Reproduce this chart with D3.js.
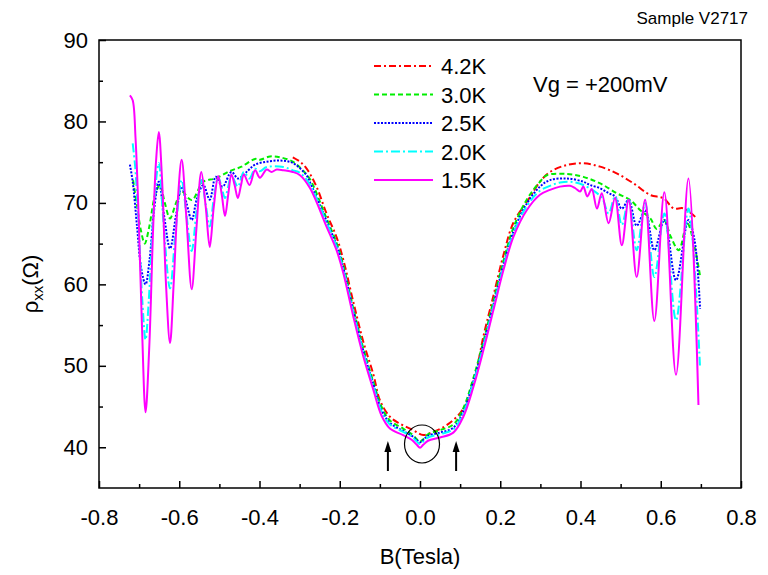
<!DOCTYPE html>
<html>
<head>
<meta charset="utf-8">
<script src="https://cdn.jsdelivr.net/npm/d3@7"></script>
<style>
  body { margin: 0; background: #fff; }
  text { font-family: Arial, "Liberation Sans", sans-serif; fill: #000; }
</style>
</head>
<body>
<script>
(function() {

    var width = 768,
        height = 575;

    // B (Tesla), rho_xx (Ohm)
    var t15 = [[-0.723,83.2],[-0.716,82.6],[-0.709,78],[-0.701,68],[-0.693,55],[-0.684,44.3],[-0.675,52],[-0.665,67],[-0.658,75],[-0.651,78.7],[-0.643,73],[-0.633,60],[-0.623,52.8],[-0.614,60],[-0.604,70],[-0.594,75.3],[-0.582,68],[-0.569,59.4],[-0.557,67],[-0.545,73.8],[-0.534,69.5],[-0.524,64.6],[-0.514,69.5],[-0.503,73.3],[-0.494,71],[-0.486,68.4],[-0.478,71],[-0.470,73.5],[-0.462,72.2],[-0.454,70.6],[-0.446,72.2],[-0.439,73.5],[-0.425,72.2],[-0.411,74.0],[-0.399,73.1],[-0.382,74.1],[-0.370,73.8],[-0.357,74.1],[-0.340,74.0],[-0.317,73.8],[-0.299,73.4],[-0.274,71.8],[-0.233,67.1],[-0.208,64.2],[-0.191,61.35],[-0.166,56.0],[-0.141,51.1],[-0.116,47.0],[-0.096,43.9],[-0.075,42.3],[-0.042,41.5],[-0.020,40.9],[-0.008,40.3],[0.000,39.95],[0.008,40.3],[0.020,40.8],[0.050,41.2],[0.083,41.8],[0.108,43.75],[0.133,47.4],[0.158,51.9],[0.183,56.85],[0.208,61.76],[0.233,65.85],[0.266,69.1],[0.299,71.0],[0.324,71.6],[0.349,72.0],[0.374,72.1],[0.387,71.8],[0.399,71.4],[0.407,72.0],[0.417,70.8],[0.428,71.7],[0.441,69.3],[0.453,71.2],[0.470,67.5],[0.486,70.6],[0.503,64.8],[0.520,70.4],[0.540,60.9],[0.561,70.4],[0.584,55.5],[0.609,71.3],[0.638,48.9],[0.669,73.0],[0.694,45.2]];

    var t20 = [[-0.716,77.3],[-0.710,74.5],[-0.700,66],[-0.692,58],[-0.684,53.2],[-0.676,58],[-0.664,69],[-0.651,74.9],[-0.640,68],[-0.623,59.5],[-0.610,66],[-0.594,72.8],[-0.582,68.5],[-0.569,64.1],[-0.557,69],[-0.545,72.8],[-0.534,69.8],[-0.524,67.1],[-0.514,70.5],[-0.503,73.2],[-0.494,71.8],[-0.486,70.6],[-0.478,72.0],[-0.470,73.4],[-0.454,72.0],[-0.439,73.8],[-0.425,73.0],[-0.411,74.2],[-0.399,73.9],[-0.382,74.4],[-0.340,74.4],[-0.317,74.0],[-0.299,73.7],[-0.274,72.2],[-0.233,67.6],[-0.208,64.6],[-0.191,61.8],[-0.166,56.5],[-0.141,51.6],[-0.116,47.5],[-0.096,44.4],[-0.075,42.8],[-0.042,41.9],[-0.020,41.3],[-0.008,40.7],[0.000,40.4],[0.008,40.7],[0.020,41.2],[0.050,41.6],[0.083,42.2],[0.108,44.2],[0.133,47.9],[0.158,52.4],[0.183,57.3],[0.208,62.2],[0.233,66.3],[0.266,69.6],[0.299,71.5],[0.324,72.1],[0.349,72.5],[0.374,72.6],[0.407,72.2],[0.441,71.2],[0.455,70.5],[0.470,68.7],[0.486,70.8],[0.503,67.3],[0.520,70.4],[0.540,64.2],[0.561,70.0],[0.584,60.9],[0.609,68.7],[0.638,55.6],[0.669,69.3],[0.698,49.7]];

    var t25 = [[-0.723,74.7],[-0.716,72.6],[-0.705,67],[-0.695,62],[-0.684,60.0],[-0.674,63],[-0.663,69],[-0.651,72.6],[-0.638,68.5],[-0.623,64.4],[-0.608,68.5],[-0.594,72.0],[-0.582,70],[-0.569,67.9],[-0.556,70.5],[-0.540,72.2],[-0.524,70.4],[-0.509,73.2],[-0.492,72.0],[-0.470,73.8],[-0.453,73.0],[-0.428,74.0],[-0.411,74.7],[-0.382,75.06],[-0.349,75.2],[-0.317,74.9],[-0.283,73.4],[-0.274,72.5],[-0.233,67.8],[-0.208,64.8],[-0.191,62.0],[-0.166,56.7],[-0.141,51.8],[-0.116,47.7],[-0.096,44.6],[-0.075,43.0],[-0.042,42.0],[-0.020,41.4],[-0.008,40.9],[0.000,40.6],[0.008,40.9],[0.020,41.4],[0.050,41.8],[0.083,42.4],[0.108,44.4],[0.133,48.1],[0.158,52.6],[0.183,57.5],[0.208,62.4],[0.233,66.5],[0.266,69.9],[0.299,72.0],[0.324,72.8],[0.366,73.0],[0.407,72.6],[0.424,72.2],[0.449,71.8],[0.470,71.2],[0.486,70.8],[0.503,69.3],[0.520,70.35],[0.540,67.2],[0.561,69.1],[0.584,64.2],[0.609,67.9],[0.638,60.5],[0.669,67.9],[0.684,65.5],[0.698,57.0]];

    var t30 = [[-0.715,72.8],[-0.705,69.5],[-0.695,66.5],[-0.686,65.0],[-0.675,67],[-0.660,71],[-0.648,72.2],[-0.636,70],[-0.623,68.1],[-0.608,70],[-0.594,71.4],[-0.569,70.35],[-0.540,72.6],[-0.510,73.0],[-0.474,73.9],[-0.445,74.45],[-0.411,75.4],[-0.399,75.3],[-0.374,75.7],[-0.349,75.6],[-0.317,75.06],[-0.292,74.0],[-0.274,72.9],[-0.233,68.1],[-0.208,65.1],[-0.191,62.3],[-0.166,57.0],[-0.141,52.1],[-0.116,48.0],[-0.096,45.0],[-0.075,43.3],[-0.042,42.3],[-0.020,41.6],[-0.008,41.0],[0.000,40.7],[0.008,41.0],[0.020,41.6],[0.050,42.1],[0.083,42.8],[0.108,44.8],[0.133,48.5],[0.158,53.0],[0.183,58.0],[0.208,62.9],[0.233,67.0],[0.266,70.4],[0.299,72.6],[0.316,73.4],[0.366,73.55],[0.407,73.2],[0.449,72.4],[0.490,71.2],[0.524,70.35],[0.549,69.1],[0.574,68.1],[0.590,66.8],[0.608,67.9],[0.625,65.85],[0.645,64.2],[0.666,67.5],[0.686,64.2],[0.698,61.0]];

    var t42 = [[-0.317,75.6],[-0.299,75.06],[-0.283,74.25],[-0.258,72.0],[-0.233,68.7],[-0.208,65.8],[-0.191,63.0],[-0.166,57.8],[-0.141,52.9],[-0.116,48.9],[-0.100,45.8],[-0.075,43.75],[-0.050,42.9],[-0.017,42.1],[0.008,41.5],[0.033,41.9],[0.066,42.7],[0.100,44.2],[0.120,45.8],[0.137,48.5],[0.158,53.6],[0.183,58.6],[0.208,63.6],[0.233,67.6],[0.270,70.4],[0.299,72.6],[0.324,73.8],[0.366,74.65],[0.407,74.86],[0.449,74.45],[0.490,73.63],[0.532,72.4],[0.574,70.97],[0.607,70.56],[0.632,69.33],[0.657,69.33],[0.690,68.1]];

    var labels = ["4.2K", "3.0K", "2.5K", "2.0K", "1.5K"];
    var colors = ["#ff0000", "#00ee00", "#0000ff", "#00ffff", "#ff00ff"];
    var dashes = ["7,3,2,3", "5,3", "2,1.5", "9,3,2,3", null];
    var traces = [t42, t30, t25, t20, t15];

    var xTicks = [-0.8, -0.6, -0.4, -0.2, 0.0, 0.2, 0.4, 0.6, 0.8];
    var yTicks = [40, 50, 60, 70, 80, 90];
    var arrowB = [-0.08, 0.09];

    var svg = d3.select("body")
        .append("svg")
        .attr("width", width)
        .attr("height", height);

    var x = d3.scaleLinear().domain([-0.8, 0.8]).range([99, 741]);
    var y = d3.scaleLinear().domain([35, 90]).range([488, 40]);

    // minor ticks
    svg.append("g")
        .attr("transform", "translate(0,488)")
        .call(d3.axisBottom(x).tickValues(d3.range(-0.7, 0.8, 0.2)).tickSize(-4).tickFormat(""))
        .call(function(g) { g.select(".domain").remove(); });
    svg.append("g")
        .attr("transform", "translate(99,0)")
        .call(d3.axisLeft(y).tickValues(d3.range(45, 90, 10)).tickSize(-4).tickFormat(""))
        .call(function(g) { g.select(".domain").remove(); });

    // major ticks + labels
    var xa = svg.append("g")
        .attr("transform", "translate(0,488)")
        .call(d3.axisBottom(x).tickValues(xTicks).tickSize(-7).tickPadding(21)
            .tickFormat(function(d) { return d.toFixed(1); }));
    xa.select(".domain").remove();
    xa.selectAll("text").attr("font-size", 22).attr("font-family", null);

    var ya = svg.append("g")
        .attr("transform", "translate(99,0)")
        .call(d3.axisLeft(y).tickValues(yTicks).tickSize(-7).tickPadding(11));
    ya.select(".domain").remove();
    ya.selectAll("text").attr("font-size", 22).attr("font-family", null);
    svg.selectAll(".tick line").attr("stroke-width", 1.5);

    svg.append("rect")
        .attr("x", 99).attr("y", 40)
        .attr("width", 642).attr("height", 448)
        .attr("fill", "none")
        .attr("stroke", "#000")
        .attr("stroke-width", 1.5);

    var line = d3.line()
        .curve(d3.curveCatmullRom.alpha(0.5))
        .x(function(d) { return x(d[0]); })
        .y(function(d) { return y(d[1]); });

    svg.append("g").selectAll("path")
        .data(traces)
        .enter().append("path")
        .attr("d", line)
        .attr("fill", "none")
        .attr("stroke", function(d, i) { return colors[i]; })
        .attr("stroke-width", 2)
        .attr("stroke-dasharray", function(d, i) { return dashes[i]; });

    // legend
    var leg = svg.append("g");
    labels.forEach(function(l, i) {
        var ly = 66 + i * 28.5;
        leg.append("line")
            .attr("x1", 374).attr("x2", 433)
            .attr("y1", ly).attr("y2", ly)
            .attr("stroke", colors[i])
            .attr("stroke-width", 2)
            .attr("stroke-dasharray", dashes[i]);
        leg.append("text")
            .attr("x", 441).attr("y", ly + 8)
            .attr("font-size", 22)
            .text(l);
    });

    svg.append("text")
        .attr("x", 533).attr("y", 92)
        .attr("font-size", 22)
        .text("Vg = +200mV");

    svg.append("text")
        .attr("x", 748).attr("y", 24)
        .attr("text-anchor", "end")
        .attr("font-size", 17)
        .text("Sample V2717");

    svg.append("text")
        .attr("x", 420).attr("y", 564)
        .attr("text-anchor", "middle")
        .attr("font-size", 22)
        .text("B(Tesla)");

    var yl = svg.append("text")
        .attr("transform", "translate(38,284) rotate(-90)")
        .attr("text-anchor", "middle")
        .attr("font-size", 22);
    yl.append("tspan").text("\u03c1");
    yl.append("tspan").attr("font-size", 15).attr("dy", 5).text("xx");
    yl.append("tspan").attr("dy", -5).text("(\u03a9)");

    // arrows and circle near zero field
    arrowB.forEach(function(b) {
        var ax = x(b);
        svg.append("line")
            .attr("x1", ax).attr("x2", ax)
            .attr("y1", 471).attr("y2", 450)
            .attr("stroke", "#000").attr("stroke-width", 2);
        svg.append("path")
            .attr("d", "M" + ax + ",441L" + (ax - 3.5) + ",452L" + (ax + 3.5) + ",452Z")
            .attr("fill", "#000");
    });

    svg.append("ellipse")
        .attr("cx", x(0.005)).attr("cy", y(40.4))
        .attr("rx", 17.5).attr("ry", 19)
        .attr("fill", "none")
        .attr("stroke", "#000")
        .attr("stroke-width", 1.2);

})();
</script>
</body>
</html>
